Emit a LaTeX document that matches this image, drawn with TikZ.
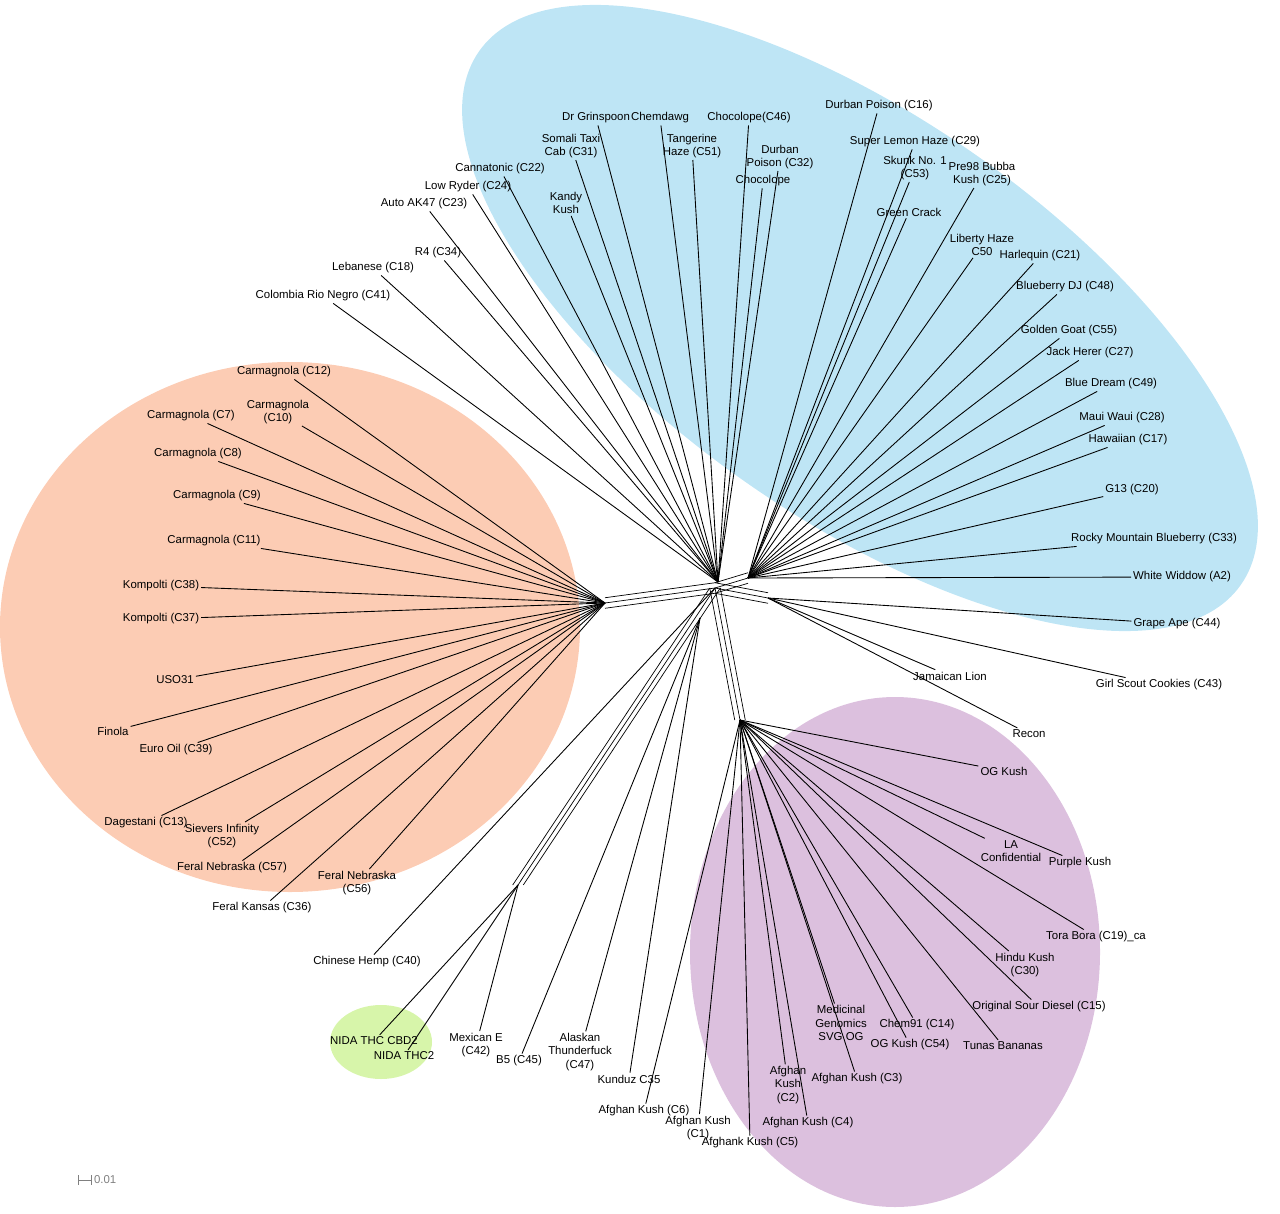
\documentclass[tikz,border=0pt]{standalone}
\usepackage{fontspec}
\setmainfont{Liberation Sans}
\definecolor{blueclu}{RGB}{190,229,245}
\definecolor{orangeclu}{RGB}{252,204,180}
\definecolor{purpleclu}{RGB}{220,192,222}
\definecolor{greenclu}{RGB}{215,245,170}
\tikzset{
  lbl/.style={font=\fontsize{6.5}{7.5}\selectfont, align=center, inner sep=1pt},
  edge/.style={line width=0.5pt},
  band/.style={line width=0.4pt}
}
\begin{document}
\begin{tikzpicture}[x=0.02cm,y=-0.02cm]
\useasboundingbox (0,0) rectangle (1280,1213);
% clusters
\fill[blueclu] (860,318) ellipse [x radius=465, y radius=200, rotate=-35];
\fill[orangeclu] (290,627) ellipse [x radius=290, y radius=265];
\fill[purpleclu] (895,952) ellipse [x radius=205, y radius=255];
\fill[greenclu] (381,1042) ellipse [x radius=51, y radius=37];
% hubs
\coordinate (ctr) at (715,588);
\coordinate (hT) at (718,582);
\coordinate (hR) at (748,578);
\coordinate (hR2) at (768,598);
\coordinate (hO) at (605,603);
\coordinate (hG) at (518,885);
\coordinate (hM) at (700,618);
\coordinate (hP) at (740,720);
% bands
\foreach \d in {-3,0,3}{
  \draw[band] ([yshift=\d]hO) -- ([yshift=\d]ctr);
  \draw[band] ([xshift=\d]hP) -- ([xshift=\d]ctr);
  \draw[band] ([xshift=\d]hG) -- ([xshift=\d]ctr);
  \draw[band] ([yshift=\d]hR) -- ([yshift=\d]ctr);
  \draw[band] ([yshift=\d]hR2) -- ([yshift=\d]ctr);
}
% leaves
\foreach \n/\x/\y/\t/\h in {
  drg/596/118/Dr Grinspoon/hT, chd/660/118/Chemdawg/hT,
  c46/749/118/Chocolope(C46)/hT, c16/879/106/Durban Poison (C16)/hR,
  c31/571/146/Somali Taxi\\Cab (C31)/hT, c51/692/146/Tangerine\\Haze (C51)/hT,
  c32/780/157/Durban\\Poison (C32)/hT, c29/915/142/Super Lemon Haze (C29)/hR,
  c22/500/169/Cannatonic (C22)/hT, cho/763/181/Chocolope/hT,
  c53/915/168/Skunk No. 1\\(C53)/hR, c25/982/174/Pre98 Bubba\\Kush (C25)/hR,
  c24/468/187/Low Ryder (C24)/hT, kk/566/203/Kandy\\Kush/hT,
  c23/424/204/Auto AK47 (C23)/hT, gc/909/212/Green Crack/hR,
  c50/982/245/Liberty Haze\\C50/hR, c21/1040/256/Harlequin (C21)/hR,
  c34/438/253/R4 (C34)/hT, c18/373/268/Lebanese (C18)/hT,
  c48/1065/287/Blueberry DJ (C48)/hR, c41/323/296/Colombia Rio Negro (C41)/hT,
  c55/1069/331/Golden Goat (C55)/hR, c27/1090/353/Jack Herer (C27)/hR,
  c49/1111/384/Blue Dream (C49)/hR, c28/1122/418/Maui Waui (C28)/hR,
  c17/1128/440/Hawaiian (C17)/hR, c20/1132/490/G13 (C20)/hR,
  c33/1154/539/Rocky Mountain Blueberry (C33)/hR, a2/1182/577/White Widdow (A2)/hR,
  c44/1177/624/Grape Ape (C44)/hR2, c43/1159/685/Girl Scout Cookies (C43)/hR2,
  jl/950/676/Jamaican Lion/hR2, rec/1029/734/Recon/hR2,
  c12/284/372/Carmagnola (C12)/hO, c7/191/416/Carmagnola (C7)/hO,
  c10/278/412/Carmagnola\\(C10)/hO, c8/198/454/Carmagnola (C8)/hO,
  c9/217/496/Carmagnola (C9)/hO, c11/214/541/Carmagnola (C11)/hO,
  c38/161/586/Kompolti (C38)/hO, c37/161/619/Kompolti (C37)/hO,
  uso/175/680/USO31/hO, fin/113/731/Finola/hO,
  c39/176/750/Euro Oil (C39)/hO, c13/146/823/Dagestani (C13)/hO,
  c52/222/836/Sievers Infinity\\(C52)/hO, c57/232/868/Feral Nebraska (C57)/hO,
  c56/357/883/Feral Nebraska\\(C56)/hO, c36/262/908/Feral Kansas (C36)/hO,
  c40/367/962/Chinese Hemp (C40)/ctr,
  cbd/374/1041/NIDA THC CBD2/hG, thc/404/1056/NIDA THC2/hG,
  c42/476/1045/Mexican E\\(C42)/hG, c45/519/1061/B5 (C45)/hM,
  c47/580/1052/Alaskan\\Thunderfuck\\(C47)/hM, c35/629/1079/Kunduz C35/hM,
  c6/644/1111/Afghan Kush (C6)/hP, c1/698/1128/Afghan Kush\\(C1)/hP,
  c5/750/1143/Afghank Kush (C5)/hP, c4/808/1123/Afghan Kush (C4)/hP,
  c2/788/1085/Afghan\\Kush\\(C2)/hP, c3/857/1079/Afghan Kush (C3)/hP,
  svg/841/1023/Medicinal\\Genomics\\SVG OG/hP, c14/917/1025/Chem91 (C14)/hP,
  c54/910/1045/OG Kush (C54)/hP, tb/1003/1046/Tunas Bananas/hP,
  c15/1039/1007/Original Sour Diesel (C15)/hP, c30/1025/965/Hindu Kush\\(C30)/hP,
  c19/1096/937/Tora Bora (C19)\_ca/hP, la/1011/851/LA\\Confidential/hP,
  pk/1080/863/Purple Kush/hP, ogk/1004/771/OG Kush/hP}{
  \node[lbl] (\n) at (\x,\y) {\t};
  \draw[edge] (\h) -- (\n);
}
% scale bar
\node[lbl, text=gray, anchor=west] (sc) at (92,1180) {0.01};
\coordinate (sc0) at (78,1180);
\draw[gray, |-|, line width=0.3pt] (sc0) -- (sc.west);
\end{tikzpicture}
\end{document}
